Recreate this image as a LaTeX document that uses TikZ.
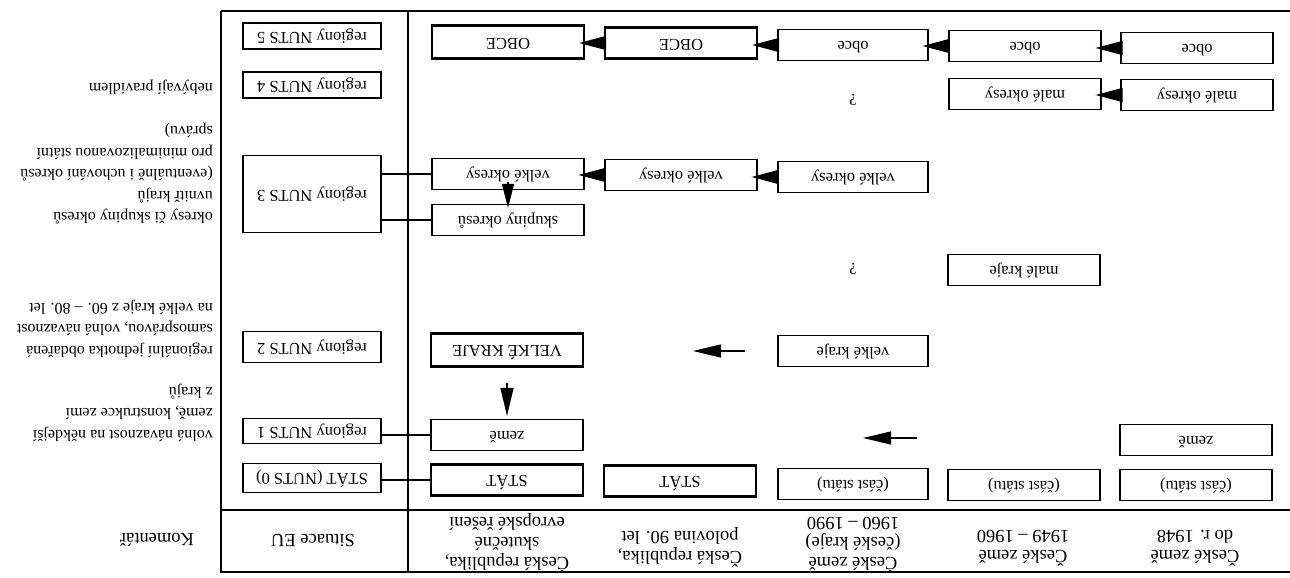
\documentclass[tikz,border=0pt]{standalone}
\usepackage{graphicx}
\usepackage{fontspec}
\setmainfont{Liberation Serif}
\usetikzlibrary{arrows.meta}
\newcommand{\ud}[2][c]{\rotatebox[origin=c]{180}{\begin{tabular}{@{}#1@{}}#2\end{tabular}}}
\begin{document}
\begin{tikzpicture}[x=1pt,y=-1pt,
  every node/.style={inner sep=0pt, font=\fontsize{16.5}{20}\selectfont},
  bx/.style={draw, line width=1.1pt, minimum width=152pt, minimum height=31pt},
  tk/.style={bx, line width=2.4pt},
  eu/.style={bx, minimum width=138pt},
  hd/.style={font=\fontsize{18.5}{20}\selectfont},
  cmt/.style={anchor=east, font=\fontsize{16}{21.5}\selectfont},
  ln/.style={line width=1.1pt},
  arr/.style={-{Triangle[length=27pt,width=14pt]}, line width=1.2pt, shorten >=-6pt},
  farr/.style={-{Triangle[length=28pt,width=13pt]}, line width=1.2pt}]
\useasboundingbox (0,0) rectangle (1290,578);
% frame
\draw[line width=2.6pt] (1290,11) -- (221,11);
\draw[line width=1.6pt] (221,11) -- (221,572) -- (1290,572);
\draw[line width=1.3pt] (221,510) -- (1290,510);
\draw[line width=1.2pt] (408,11) -- (408,572);
% headers
\node[hd] (h1) at (1195,545) {\ud{České země\\do r. 1948}};
\node[hd] (h2) at (1023,545) {\ud{České země\\1949 -- 1960}};
\node[hd] (h3) at (853,542) {\ud{České země\\(české kraje)\\1960 -- 1990}};
\node[hd] (h4) at (680,546) {\ud{Česká republika,\\polovina 90. let}};
\node[hd] (h5) at (507,542) {\ud{Česká republika,\\skutečné\\evropské řešení}};
\node[hd] (heu) at (313,538) {\ud{Situace EU}};
\node[hd] (k0) at (157,537) {\ud{Komentář}};
% column 1
\node[bx] (cs1) at (1196,485) {\ud{(část státu)}};
\node[bx] (z1) at (1196,440) {\ud{země}};
\node[bx] (mo1) at (1197,95) {\ud{malé okresy}};
\node[bx] (ob1) at (1197,48) {\ud{obce}};
% column 2
\node[bx] (cs2) at (1024,485) {\ud{(část státu)}};
\node[bx] (mk2) at (1024,270) {\ud{malé kraje}};
\node[bx] (mo2) at (1025,94) {\ud{malé okresy}};
\node[bx] (ob2) at (1025,46) {\ud{obce}};
% column 3
\node[bx, minimum width=150pt] (cs3) at (853,484) {\ud{(část státu)}};
\node[bx, minimum width=150pt] (vk3) at (853,351) {\ud{velké kraje}};
\node[bx, minimum width=150pt] (vo3) at (853,177) {\ud{velké okresy}};
\node[bx, minimum width=150pt] (ob3) at (853,45) {\ud{obce}};
% column 4
\node[tk] (st4) at (680,481) {\ud{STÁT}};
\node[bx] (vo4) at (681,175) {\ud{velké okresy}};
\node[tk] (OB4) at (681,43) {\ud{OBCE}};
% column 5
\node[tk] (st5) at (507,480) {\ud{STÁT}};
\node[bx] (z5) at (507,435) {\ud{země}};
\node[tk, minimum height=33pt] (VK5) at (507,350) {\ud{VELKÉ KRAJE}};
\node[bx] (sk5) at (508,220) {\ud{skupiny okresů}};
\node[bx] (vo5) at (508,174) {\ud{velké okresy}};
\node[tk, minimum height=33pt] (OB5) at (508,42) {\ud{OBCE}};
% EU column
\node[eu, minimum height=29pt] (n0) at (312,478) {\ud{STÁT (NUTS 0)}};
\node[eu, minimum height=25pt] (n1) at (312,431) {\ud{regiony NUTS 1}};
\node[eu] (n2) at (312,347) {\ud{regiony NUTS 2}};
\node[eu, minimum height=77pt] (n3) at (312,194) {\ud{regiony NUTS 3}};
\node[eu, minimum height=26pt] (n4) at (312,85) {\ud{regiony NUTS 4}};
\node[eu, minimum height=26pt] (n5) at (312,36) {\ud{regiony NUTS 5}};
% question marks
\node (q1) at (853,98) {\ud{?}};
\node (q2) at (853,267) {\ud{?}};
% comments
\node[cmt] (k1) at (213,88) {\ud[l]{nebývají pravidlem}};
\node[cmt] (k2) at (213,174) {\ud[l]{okresy či skupiny okresů\\uvnitř krajů\\(eventuálně i uchování okresů\\pro minimalizovanou státní\\správu)}};
\node[cmt] (k3) at (213,329) {\ud[l]{regionální jednotka obdařená\\samosprávou, volná návaznost\\na velké kraje z 60. -- 80. let}};
\node[cmt] (k4) at (213,413) {\ud[l]{volná návaznost na někdejší\\země, konstrukce zemí\\z krajů}};
% EU connectors
\draw[ln] (vo5.west) -- (vo5.west -| n3.east);
\draw[ln] (sk5.west) -- (sk5.west -| n3.east);
\draw[ln] (z5.west) -- (z5.west -| n1.east);
\draw[ln] (st5.west) -- (st5.west -| n0.east);
% box arrows
\draw[arr] (ob1.west) -- (ob1.west -| ob2.east);
\draw[arr] (ob2.west) -- (ob2.west -| ob3.east);
\draw[arr] (ob3.west) -- (ob3.west -| OB4.east);
\draw[arr] (OB4.west) -- (OB4.west -| OB5.east);
\draw[arr] (mo1.west) -- (mo1.west -| mo2.east);
\draw[arr] (vo3.west) -- (vo3.west -| vo4.east);
\draw[arr] (vo4.west) -- (vo4.west -| vo5.east);
\draw[-{Triangle[length=24pt,width=12pt]}, line width=1.2pt] ([yshift=8pt]vo5.south) -- ([yshift=-4pt]sk5.north);
% free arrows
\coordinate (a1s) at (745,351);
\coordinate (a1e) at (693,351);
\draw[farr] (a1s) -- (a1e);
\coordinate (a2s) at (917,438);
\coordinate (a2e) at (863,438);
\draw[farr] (a2s) -- (a2e);
\draw[farr] ([yshift=-15pt]VK5.south) -- ([yshift=3pt]z5.north);
\end{tikzpicture}
\end{document}
